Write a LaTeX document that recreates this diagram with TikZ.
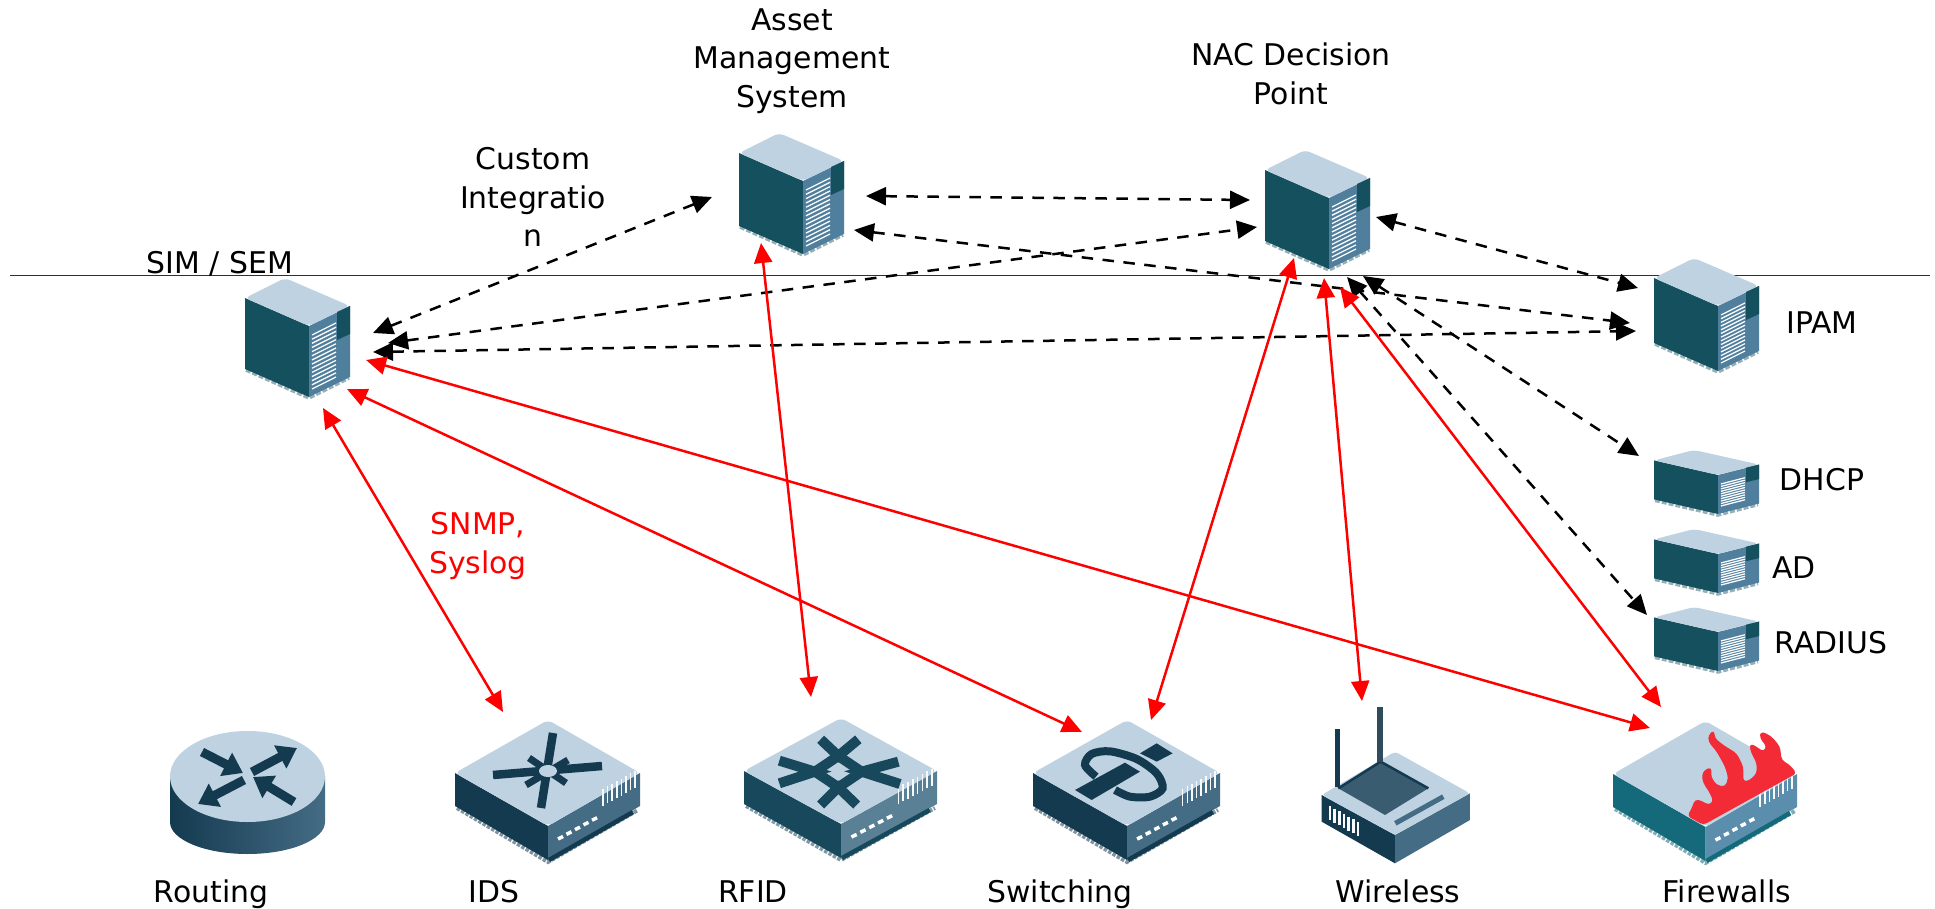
\documentclass[tikz,border=0pt]{standalone}
\usepackage{fontspec}
\setmainfont{DejaVu Sans}
\usetikzlibrary{arrows.meta}
\definecolor{topc}{HTML}{BFD2E1}
\definecolor{srvfront}{HTML}{15505F}
\definecolor{srvside}{HTML}{4F7F9C}
\definecolor{devdark}{HTML}{143A50}
\definecolor{devside}{HTML}{446C84}
\definecolor{rfiddark}{HTML}{17485B}
\definecolor{rfidside}{HTML}{5A8096}
\definecolor{fwleft}{HTML}{146A7A}
\definecolor{fwside}{HTML}{5B8EAD}
\definecolor{flame}{HTML}{F22B36}
\definecolor{horizon}{HTML}{1A2F70}
\tikzset{
  iconbox/.style 2 args={inner sep=0pt,outer sep=0pt,minimum width=#1*0.02cm,minimum height=#2*0.02cm},
  lbl/.style={font=\fontsize{17}{22}\selectfont,inner sep=0pt,text=black},
  ctl/.style={line width=.05cm,dash pattern=on .23cm off .19cm,{Triangle[length=.4cm,width=.36cm]}-{Triangle[length=.4cm,width=.36cm]}},
  sig/.style={line width=.05cm,red,{Triangle[length=.4cm,width=.36cm]}-{Triangle[length=.4cm,width=.36cm]}},
  vent/.style={white!92!topc,line width=.026cm},
  rtarrow/.style={line width=.18cm,devdark,-{Triangle[length=.38cm,width=.5cm]}}
}
% tall or flat server: origin top-left; #3 top-face ratio, #4 body height, #5 vents
\newcommand\srvicon[5]{%
 \begin{scope}[shift={(#1,#2)}]
  \draw[srvfront!45!white,line width=.07cm,dash pattern=on .1cm off .04cm] (1,{20*#3+#4-2}) -- (64,{48*#3+#4-2}) -- (104,{28*#3+#4-2});
  \fill[srvfront] (0,{20*#3}) -- (64,{48*#3}) -- (64,{48*#3+#4-3}) -- (0,{20*#3+#4-3}) -- cycle;
  \fill[srvside] (64,{48*#3}) -- (105,{28*#3}) -- (105,{28*#3+#4-3}) -- (64,{48*#3+#4-3}) -- cycle;
  \fill[topc,rounded corners=3pt] (0,{20*#3}) -- (40,0) -- (105,{28*#3}) -- (64,{48*#3}) -- cycle;
  \fill[srvfront] (92,{34*#3}) -- (105,{28*#3}) -- (105,{56*#3}) -- (92,{62*#3}) -- cycle;
  \foreach \i in {0,...,#5}
   \draw[vent] (67,{48*#3+9+\i*(#4-20)/#5}) -- (91,{48*#3+9+\i*(#4-20)/#5-12*#3});
 \end{scope}}
% flat box device: origin top-left; #3 width; #4 left colour, #5 right colour
\newcommand\devicon[5]{%
 \begin{scope}[shift={(#1,#2)},xscale=#3/185]
  \draw[#4!55!white,line width=.08cm,dash pattern=on .07cm off .03cm] (2,88) -- (93,142) -- (183,90);
  \fill[#4] (0,53) -- (93,106) -- (93,140) -- (0,86) -- cycle;
  \fill[#5] (93,106) -- (185,53) -- (185,86) -- (93,140) -- cycle;
  \draw[#4,line width=.09cm] (94,140) -- (178,92);
  \fill[topc,rounded corners=3pt] (0,53) -- (93,0) -- (185,53) -- (93,106) -- cycle;
  \foreach \i in {0,...,4}
   \draw[white,line width=.07cm] ({103+\i*8.5},{119-\i*4.7}) -- ({108+\i*8.5},{116.5-\i*4.7});
  \foreach \i in {0,...,7}
   \draw[white!90!topc,line width=.03cm] ({148+\i*4.6},{86-\i*2.6}) -- ({148+\i*4.6},{69-\i*2.6});
 \end{scope}}
\begin{document}
\begin{tikzpicture}[x=0.02cm,y=-0.02cm]
\useasboundingbox (0,0) rectangle (1935,909);
\fill[white] (0,0) rectangle (1935,909);
\draw[horizon,line width=.03cm] (10,275.5) -- (1930,275.5);

% servers
\srvicon{245}{278}{1}{74}{13}
\srvicon{739}{133}{1}{76}{13}
\srvicon{1265}{150}{1}{74}{13}
\srvicon{1654}{258}{1}{68}{13}
\srvicon{1654}{450}{.52}{42}{9}
\srvicon{1654}{529}{.52}{42}{9}
\srvicon{1654}{607}{.52}{42}{9}
\node[iconbox={105}{120}] (sim) at (297,338) {};
\node[iconbox={105}{122}] (asset) at (791,194) {};
\node[iconbox={105}{120}] (nac) at (1317,210) {};
\node[iconbox={105}{114}] (ipam) at (1706,315) {};
\node[iconbox={105}{67}] (dhcp) at (1706,483) {};
\node[iconbox={105}{67}] (ad) at (1706,562) {};
\node[iconbox={105}{67}] (radius) at (1706,640) {};

% routing
\node[iconbox={155}{123}] (routing) at (247,792) {};
\path[left color=devdark,right color=devside] (170,776) -- (170,822) arc[start angle=180,end angle=360,x radius=77.5,y radius=-32] -- (325,776) -- cycle;
\fill[topc] (247.5,776.5) ellipse[x radius=77.5,y radius=45.5];
\draw[rtarrow] (202,752) -- (243,773);
\draw[rtarrow] (252,772) -- (297,748);
\draw[rtarrow] (244,780) -- (198,804);
\draw[rtarrow] (294,802) -- (253,777);

% IDS
\devicon{455}{720}{185}{devdark}{devside}
\node[iconbox={185}{143}] (ids) at (547,791) {};
\begin{scope}[shift={(455,720)},devdark]
 \draw[line width=.17cm] (98,13) -- (86,88);
 \draw[line width=.17cm] (38,55) -- (147,46);
 \draw[line width=.14cm] (74,38) -- (111,63);
 \draw[line width=.14cm] (113,40) -- (71,65);
 \fill[topc] (93,51) ellipse[x radius=9,y radius=6];
\end{scope}

% RFID
\devicon{744}{718}{193}{rfiddark}{rfidside}
\node[iconbox={193}{149}] (rfid) at (841,793) {};
\begin{scope}[shift={(730,710)},scale=.3333,rfiddark,line width=.2cm]
 \draw (325,138) -- (395,185) -- (325,232) -- (255,185) -- cycle;
 \draw (272,88) -- (325,138) -- (385,88);
 \draw (148,152) -- (255,185) -- (148,220);
 \draw (505,155) -- (395,185) -- (510,222);
 \draw (272,285) -- (325,232) -- (380,285);
\end{scope}

% switching
\devicon{1033}{720}{187}{devdark}{devside}
\node[iconbox={187}{144}] (switching) at (1126,791) {};
\begin{scope}[shift={(1020,710)},scale=.3333,devdark]
 \draw[line width=.16cm] plot[smooth] coordinates {(228,200) (195,165) (215,132) (270,124) (350,147) (410,190) (428,235) (390,260) (330,260) (285,240)};
 \fill (165,240) -- (315,158) -- (360,185) -- (215,270) -- cycle;
 \fill (360,130) -- (410,100) -- (458,130) -- (410,155) -- cycle;
\end{scope}

% wireless
\node[iconbox={148}{156}] (wireless) at (1395,785) {};
\begin{scope}[shift={(1310,700)},scale=.3333]
 \fill[devdark] (35,285) -- (255,405) -- (255,490) -- (35,365) -- cycle;
 \fill[devside] (255,405) -- (480,280) -- (480,360) -- (255,490) -- cycle;
 \fill[topc,rounded corners=2pt] (35,285) -- (255,155) -- (480,280) -- (255,405) -- cycle;
 \fill[devside!85!black] (212,185) -- (85,265) -- (225,345) -- (355,265) -- cycle;
 \draw[devdark,line width=.05cm] (85,265) -- (212,185) -- (355,265);
 \draw[devside,line width=.1cm] (256,370) -- (400,290);
 \draw[devside!70!black,line width=.13cm] (210,20) -- (210,185);
 \draw[devdark,line width=.11cm] (82,88) -- (82,262);
 \foreach \i in {0,...,6}
  \draw[white!90!topc,line width=.05cm] ({60+\i*14},{318+\i*8}) -- ({60+\i*14},{360+\i*8});
\end{scope}

% firewall
\devicon{1613}{721}{184}{fwleft}{fwside}
\node[iconbox={184}{143}] (firewall) at (1705,792) {};
\begin{scope}[shift={(1600,710)},scale=.3333]
 \fill[flame,rounded corners=2pt] (262,318) -- (275,295) -- (285,268) -- (305,272) -- (325,285) -- (340,275) -- (330,250) -- (310,220) -- (305,195) -- (315,178) -- (335,172) -- (333,200) -- (350,225) -- (375,230) -- (385,205) -- (375,170) -- (350,125) -- (325,95) -- (325,75) -- (342,60) -- (345,85) -- (370,105) -- (410,130) -- (430,170) -- (430,215) -- (450,210) -- (470,190) -- (470,160) -- (450,120) -- (450,100) -- (470,110) -- (490,125) -- (500,110) -- (480,85) -- (480,65) -- (500,70) -- (520,85) -- (540,110) -- (545,150) -- (570,165) -- (590,190) -- (310,345) -- cycle;
\end{scope}

% control connectors
\draw[ctl] ([shift={(76,-5)}]sim.center) -- ([shift={(-79,3)}]asset.center);
\draw[ctl] ([shift={(75,2)}]asset.center) -- ([shift={(-67,-10)}]nac.center);
\draw[ctl] ([shift={(91,5)}]sim.center) -- ([shift={(-60,17)}]nac.center);
\draw[ctl] ([shift={(76,14)}]sim.center) -- ([shift={(-70,16)}]ipam.center);
\draw[ctl] ([shift={(63,36)}]asset.center) -- ([shift={(-76,8)}]ipam.center);
\draw[ctl] ([shift={(59,7)}]nac.center) -- ([shift={(-68,-27)}]ipam.center);
\draw[ctl] ([shift={(46,66)}]nac.center) -- ([shift={(-67,-27)}]dhcp.center);
\draw[ctl] ([shift={(30,67)}]nac.center) -- ([shift={(-59,-25)}]radius.center);

% signal connectors
\draw[sig] ([shift={(26,70)}]sim.center) -- ([shift={(-44,-79)}]ids.center);
\draw[sig] ([shift={(50,51)}]sim.center) -- ([shift={(-44,-59)}]switching.center);
\draw[sig] ([shift={(69,22)}]sim.center) -- ([shift={(-55,-64)}]firewall.center);
\draw[sig] ([shift={(-30,49)}]asset.center) -- ([shift={(-30,-96)}]rfid.center);
\draw[sig] ([shift={(-23,48)}]nac.center) -- ([shift={(25,-71)}]switching.center);
\draw[sig] ([shift={(7,68)}]nac.center) -- ([shift={(-33,-84)}]wireless.center);
\draw[sig] ([shift={(23,77)}]nac.center) -- ([shift={(-44,-85)}]firewall.center);

% labels
\node[lbl,align=center] (lasset) at (792,61) {Asset\\Management\\System};
\node[lbl,align=center] (lnac) at (1291,74) {NAC Decision\\Point};
\node[lbl,align=center] (lcustom) at (533,197) {Custom\\Integratio\\n};
\node[lbl,anchor=base] (lsim) at (220,273) {SIM / SEM};
\node[lbl,anchor=base] (lipam) at (1822,333) {IPAM};
\node[lbl,anchor=base] (ldhcp) at (1822,490) {DHCP};
\node[lbl,anchor=base] (lad) at (1794,578) {AD};
\node[lbl,anchor=base] (lradius) at (1831,653) {RADIUS};
\node[lbl,align=center,text=red] (lsnmp) at (478,546) {SNMP,\\Syslog};
\node[lbl,anchor=base] (lrouting) at (211,902) {Routing};
\node[lbl,anchor=base] (lids) at (494,902) {IDS};
\node[lbl,anchor=base] (lrfid) at (753,902) {RFID};
\node[lbl,anchor=base] (lswitching) at (1060,902) {Switching};
\node[lbl,anchor=base] (lwireless) at (1398,902) {Wireless};
\node[lbl,anchor=base] (lfirewalls) at (1727,902) {Firewalls};
\end{tikzpicture}
\end{document}
